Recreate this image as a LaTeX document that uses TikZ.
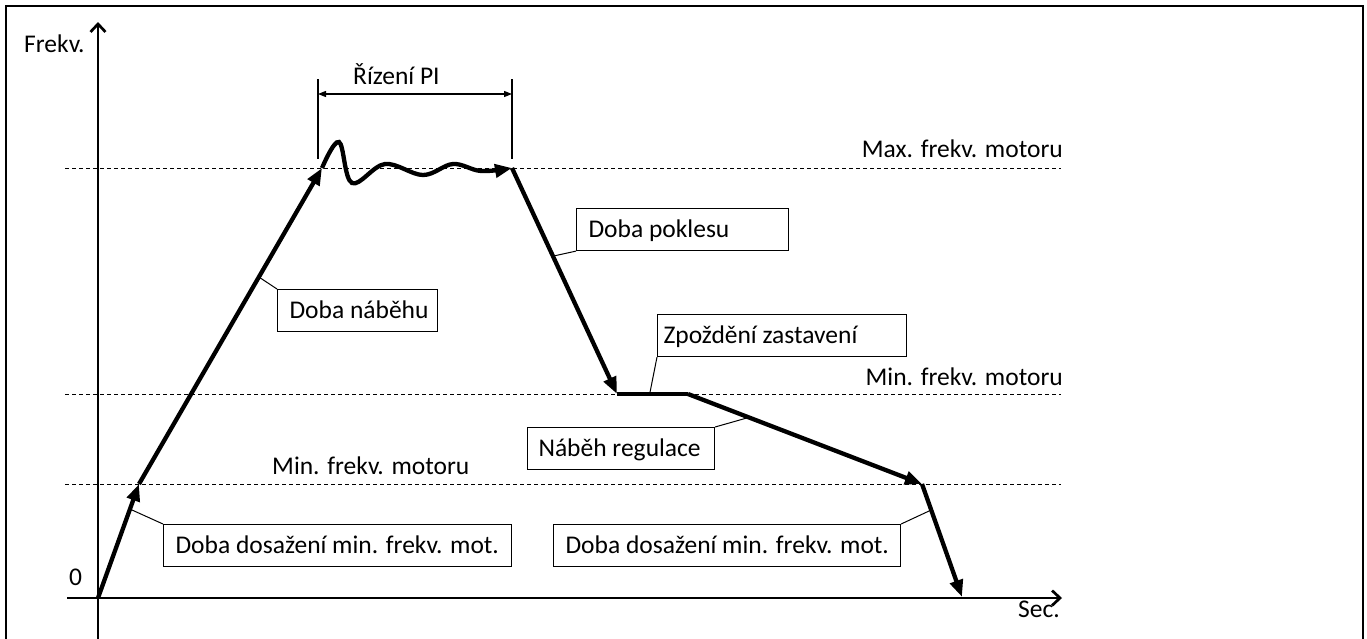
\documentclass[tikz,border=0pt]{standalone}
\usepackage{fontspec}
\setmainfont{Carlito}
\usetikzlibrary{arrows.meta,calc}
\newcommand\lbltext[2]{\makebox[#1][l]{#2}}
\begin{document}
\begin{tikzpicture}[x=1pt,y=-1pt,
  every node/.style={font=\fontsize{25.5}{30}\selectfont, inner sep=0pt},
  curve/.style={line width=4.3pt, -{Triangle[length=17pt,width=13pt]}},
  flat/.style={line width=4.3pt},
  axis/.style={line width=2.7pt, -{Straight Barb[length=8pt,width=15pt,line width=2.7pt]}},
  guide/.style={line width=1pt, dash pattern=on 4pt off 3pt},
  lbl/.style={draw, line width=1.1pt, inner xsep=12pt, inner ysep=0pt, text height=29pt, text depth=13pt, anchor=north west},
  leader/.style={line width=1pt},
  dim/.style={line width=1.2pt},
  dimarrow/.style={line width=1.2pt, {Triangle[length=8pt,width=6pt]}-{Triangle[length=8pt,width=6pt]}}]
\clip (0,0) rectangle (1367,638);
\useasboundingbox (0,0) rectangle (1367,638);
% frame
\draw[line width=2.5pt] (6,700) -- (6,6) -- (1363,6) -- (1363,700);
% guide lines
\coordinate (gmaxL) at (65,168); \coordinate (gmaxR) at (1061,168);
\coordinate (gmin1L) at (65,394); \coordinate (gmin1R) at (1061,394);
\coordinate (gmin2L) at (65,484); \coordinate (gmin2R) at (1061,484);
\draw[guide] (gmaxL) -- (gmaxR);
\draw[guide] (gmin1L) -- (gmin1R);
\draw[guide] (gmin2L) -- (gmin2R);
% axes
\coordinate (yb) at (98,700); \coordinate (yt) at (98,22);
\coordinate (xl) at (67,598); \coordinate (xr) at (1062,598);
\draw[axis] (yb) -- (yt);
\draw[axis] (xl) -- (xr);
\node[anchor=base west] (frekv) at (24,52) {Frekv.};
\node[anchor=base west] (sec) at (1018,617) {Sec.};
\node[anchor=base west] (zero) at (69,585) {0};
% curve points
\coordinate (O) at (98,598);
\coordinate (A) at (139,484);
\coordinate (B) at (322,168);
\coordinate (C) at (512,168);
\coordinate (D) at (617,394);
\coordinate (E) at (688,394);
\coordinate (F) at (922,484);
\coordinate (G) at (962,597);
\draw[curve] (O) -- (A);
\draw[curve] (A) -- (B);
\draw[curve] plot[smooth, tension=0.6] coordinates {(B) (339,142) (352,183) (385,164) (423,175) (453,164) (481,171) (C)};
\draw[curve] (C) -- (D);
\draw[flat] (D) -- (E);
\draw[curve] (E) -- (F);
\draw[curve] (F) -- (G);
% level labels
\node[anchor=base east] (maxlbl) at (1063,157) {Max. frekv. motoru};
\node[anchor=base east] (min1lbl) at (1063,385) {Min. frekv. motoru};
\node[anchor=base west] (min2lbl) at (272,474) {Min. frekv. motoru};
% PI dimension
\coordinate (t1a) at (318,79); \coordinate (t1b) at (318,159);
\coordinate (t2a) at (512,79); \coordinate (t2b) at (512,159);
\coordinate (d1) at (318,94); \coordinate (d2) at (512,94);
\draw[dim] (t1a) -- (t1b);
\draw[dim] (t2a) -- (t2b);
\draw[dimarrow] (d1) -- (d2);
\node[anchor=base west] (pi) at (353,84) {Řízení PI};
% label boxes
\node[lbl] (nab) at (277,289) {\lbltext{136pt}{Doba náběhu}};
\node[lbl] (pok) at (576,208) {\lbltext{188pt}{Doba poklesu}};
\node[lbl, inner xsep=6pt] (zpo) at (657,314) {\lbltext{237pt}{Zpoždění zastavení}};
\node[lbl, inner xsep=11pt] (reg) at (527,427) {\lbltext{165pt}{Náběh regulace}};
\node[lbl] (dos1) at (163,524) {\lbltext{324pt}{Doba dosažení min. frekv. mot.}};
\node[lbl] (dos2) at (553,524) {\lbltext{323pt}{Doba dosažení min. frekv. mot.}};
% leaders
\coordinate (lnab) at ($(A)!0.655!(B)$);
\coordinate (lpok) at ($(C)!0.39!(D)$);
\coordinate (lzpo) at ($(D)!0.46!(E)$);
\coordinate (lreg) at ($(E)!0.26!(F)$);
\coordinate (ldos1) at ($(O)!0.78!(A)$);
\coordinate (ldos2) at ($(F)!0.23!(G)$);
\draw[leader] (nab.north west) -- (lnab);
\draw[leader] (pok.south west) -- (lpok);
\draw[leader] (zpo.south west) -- (lzpo);
\draw[leader] (reg.north east) -- (lreg);
\draw[leader] (dos1.north west) -- (ldos1);
\draw[leader] (dos2.north east) -- (ldos2);
\end{tikzpicture}
\end{document}
